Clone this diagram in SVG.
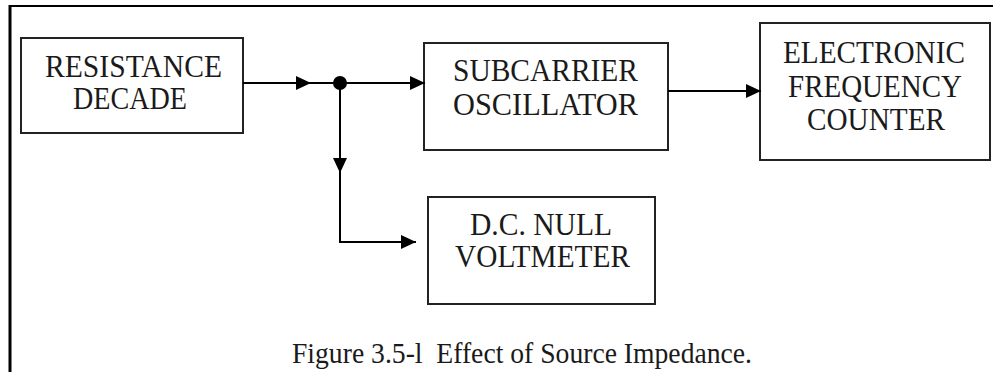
<svg xmlns="http://www.w3.org/2000/svg" width="993" height="372" viewBox="0 0 993 372">
<style>
.box{fill:#fff;stroke:#222;stroke-width:2}
.t{font-family:'Liberation Serif','Times New Roman',Times,'DejaVu Serif','Noto Serif',serif;font-size:31px;fill:#1a1a1a;text-anchor:middle}
.c{fill:none;stroke:#000;stroke-width:2}
.cap{font-family:'Liberation Serif','Times New Roman',Times,'DejaVu Serif','Noto Serif',serif;font-size:29px;fill:#1a1a1a;white-space:pre}
</style>
<defs>
<marker id="ah" markerUnits="userSpaceOnUse" markerWidth="15" markerHeight="14" refX="15" refY="7" orient="auto">
<path d="M0,0 L15,7 L0,14 Z" fill="#000"/>
</marker>
</defs>
<rect width="993" height="372" fill="#fff"/>
<g id="frame">
<line x1="9" y1="6" x2="993" y2="6" stroke="#000" stroke-width="2"/>
<line x1="10" y1="5" x2="10" y2="372" stroke="#000" stroke-width="3"/>
</g>
<g id="resistance">
<rect class="box" x="21" y="38" width="222" height="95"/>
<text class="t" x="133.5" y="77" textLength="177" lengthAdjust="spacingAndGlyphs">RESISTANCE</text>
<text class="t" x="130" y="109" textLength="114" lengthAdjust="spacingAndGlyphs">DECADE</text>
</g>
<g id="subcarrier">
<rect class="box" x="424" y="43" width="244" height="107"/>
<text class="t" x="545.5" y="81" textLength="185" lengthAdjust="spacingAndGlyphs">SUBCARRIER</text>
<text class="t" x="545.5" y="115" textLength="185" lengthAdjust="spacingAndGlyphs">OSCILLATOR</text>
</g>
<g id="counter">
<rect class="box" x="760" y="23" width="230" height="137"/>
<text class="t" x="874" y="63" textLength="182" lengthAdjust="spacingAndGlyphs">ELECTRONIC</text>
<text class="t" x="875" y="97" textLength="174" lengthAdjust="spacingAndGlyphs">FREQUENCY</text>
<text class="t" x="876" y="130" textLength="138" lengthAdjust="spacingAndGlyphs">COUNTER</text>
</g>
<g id="voltmeter">
<rect class="box" x="428" y="197" width="227" height="107"/>
<text class="t" x="541" y="235" textLength="142" lengthAdjust="spacingAndGlyphs">D.C. NULL</text>
<text class="t" x="542.5" y="267" textLength="175" lengthAdjust="spacingAndGlyphs">VOLTMETER</text>
</g>
<g id="connectors">
<line class="c" x1="243" y1="83" x2="311" y2="83" marker-end="url(#ah)"/>
<line class="c" x1="308" y1="83" x2="340" y2="83"/>
<line class="c" x1="340" y1="83" x2="425" y2="83" marker-end="url(#ah)"/>
<line class="c" x1="340" y1="83" x2="340" y2="173" marker-end="url(#ah)"/>
<polyline class="c" points="340,170 340,242 416,242" marker-end="url(#ah)"/>
<line class="c" x1="668" y1="91" x2="761" y2="91" marker-end="url(#ah)"/>
<circle cx="340" cy="83" r="7" fill="#000"/>
</g>
<text id="caption" class="cap" x="292" y="363" textLength="460" lengthAdjust="spacingAndGlyphs">Figure 3.5-l  Effect of Source Impedance.</text>
</svg>
